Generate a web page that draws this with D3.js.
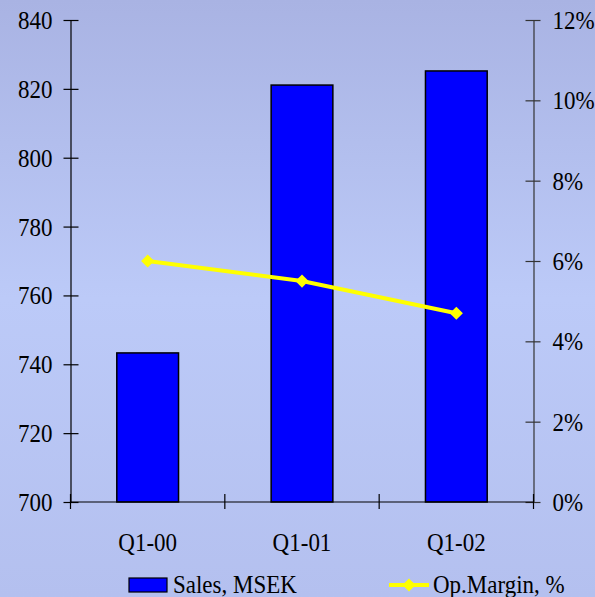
<!DOCTYPE html>
<html>
<head>
<meta charset="utf-8">
<script src="https://cdn.jsdelivr.net/npm/d3@7"></script>
<style>
  html, body { margin: 0; padding: 0; }
  svg { display: block; }
</style>
</head>
<body>
<svg id="chart" width="595" height="597"></svg>
<script>
// Quarterly sales (MSEK, left axis) and operating margin (%, right axis)
const categories = ["Q1-00", "Q1-01", "Q1-02"];
const sales = [743.3, 821.1, 825.2];
const opMargin = [6.0, 5.5, 4.7];
const salesTicks = [700, 720, 740, 760, 780, 800, 820, 840];
const marginTicks = [0, 2, 4, 6, 8, 10, 12];
const seriesNames = ["Sales, MSEK", "Op.Margin, %"];

const W = 595, H = 597;
const plot = { left: 70.5, right: 533.5, top: 20, bottom: 502 };
const fontSize = 23;
const stretch = 1.12; // glyphs drawn slightly taller than wide
const serif = "'Times New Roman', 'Liberation Serif', 'DejaVu Serif', serif";

const svg = d3.select("#chart");

// Background gradient
const defs = svg.append("defs");
const grad = defs.append("linearGradient")
  .attr("id", "bg").attr("x1", 0).attr("y1", 0).attr("x2", 0).attr("y2", 1);
grad.append("stop").attr("offset", "0%").attr("stop-color", "#a9b3e3");
grad.append("stop").attr("offset", "50%").attr("stop-color", "#bccaf8");
grad.append("stop").attr("offset", "100%").attr("stop-color", "#b4c0ef");
svg.append("rect").attr("width", W).attr("height", H).attr("fill", "url(#bg)");

// Scales
const x = d3.scaleBand().domain(categories)
  .range([plot.left, plot.right]).paddingInner(0).paddingOuter(0);
const ySales = d3.scaleLinear().domain([700, 840]).range([plot.bottom, plot.top]);
const yMargin = d3.scaleLinear().domain([0, 12]).range([plot.bottom, plot.top]);

const barW = x.bandwidth() * 0.40;

// Bars
svg.append("g").selectAll("rect")
  .data(categories.map((c, i) => ({ c, v: sales[i] })))
  .join("rect")
  .attr("x", d => x(d.c) + (x.bandwidth() - barW) / 2)
  .attr("y", d => ySales(d.v))
  .attr("width", barW)
  .attr("height", d => ySales(700) - ySales(d.v))
  .attr("fill", "#0000ff")
  .attr("stroke", "#000")
  .attr("stroke-width", 1.5);

// Left axis
const leftAxis = d3.axisLeft(ySales).tickValues(salesTicks)
  .tickSizeInner(7).tickSizeOuter(0).tickPadding(18);
const gl = svg.append("g").attr("transform", `translate(${plot.left},0)`).call(leftAxis)
  .attr("font-family", serif).attr("font-size", fontSize);
gl.select(".domain").attr("stroke", "#000").attr("stroke-width", 1.2);
gl.selectAll(".tick line").attr("x2", 8).attr("x1", -7).attr("stroke", "#000").attr("stroke-width", 1.2);
gl.selectAll(".tick text").attr("x", -18).attr("dy", "0.33em").attr("fill", "#000")
  .attr("transform", `scale(1,${stretch})`);

// Right axis
const rightAxis = d3.axisRight(yMargin).tickValues(marginTicks)
  .tickFormat(d => d + "%").tickSizeInner(7).tickSizeOuter(0).tickPadding(18);
const gr = svg.append("g").attr("transform", `translate(${plot.right},0)`).call(rightAxis)
  .attr("font-family", serif).attr("font-size", fontSize);
gr.select(".domain").attr("stroke", "#333").attr("stroke-width", 1.2);
gr.selectAll(".tick line").attr("x1", -8).attr("x2", 7).attr("stroke", "#333").attr("stroke-width", 1.2);
gr.selectAll(".tick text").attr("x", 19).attr("dy", "0.33em").attr("fill", "#000")
  .attr("transform", `scale(1,${stretch})`);

// Bottom axis: baseline, ticks at category boundaries, labels centred
const gb = svg.append("g").attr("font-family", serif).attr("font-size", fontSize);
gb.append("line")
  .attr("x1", plot.left).attr("x2", plot.right)
  .attr("y1", plot.bottom).attr("y2", plot.bottom)
  .attr("stroke", "#000").attr("stroke-width", 1.2);
const boundaries = categories.map(c => x(c)).concat([x(categories[categories.length - 1]) + x.bandwidth()]);
gb.selectAll("line.tk").data(boundaries).join("line").attr("class", "tk")
  .attr("x1", d => d).attr("x2", d => d)
  .attr("y1", plot.bottom - 8).attr("y2", plot.bottom + 7)
  .attr("stroke", "#000").attr("stroke-width", 1.2);
gb.selectAll("text").data(categories).join("text")
  .attr("transform", d => `translate(${x(d) + x.bandwidth() / 2},551) scale(1,${stretch})`)
  .attr("text-anchor", "middle")
  .text(d => d);

// Margin line with diamond markers
const pts = categories.map((c, i) => [x(c) + x.bandwidth() / 2, yMargin(opMargin[i])]);
svg.append("path")
  .attr("d", d3.line()(pts))
  .attr("fill", "none").attr("stroke", "#ffff00").attr("stroke-width", 4);
const diamond = d3.symbol().type(d3.symbolDiamond2).size(110);
svg.append("g").selectAll("path").data(pts).join("path")
  .attr("transform", d => `translate(${d[0]},${d[1]})`)
  .attr("d", diamond)
  .attr("fill", "#ffff00");

// Legend
const lg = svg.append("g").attr("font-family", serif).attr("font-size", fontSize);
lg.append("rect").attr("x", 129).attr("y", 578).attr("width", 38).attr("height", 14)
  .attr("fill", "#0000ff").attr("stroke", "#000").attr("stroke-width", 1.2);
lg.append("text").attr("transform", `translate(173,593) scale(1,${stretch})`).text(seriesNames[0]);
lg.append("line").attr("x1", 389).attr("x2", 429).attr("y1", 585).attr("y2", 585)
  .attr("stroke", "#ffff00").attr("stroke-width", 4);
lg.append("path").attr("transform", "translate(409,585)").attr("d", diamond).attr("fill", "#ffff00");
lg.append("text").attr("transform", `translate(433,593) scale(1,${stretch})`).text(seriesNames[1]);
</script>
</body>
</html>
